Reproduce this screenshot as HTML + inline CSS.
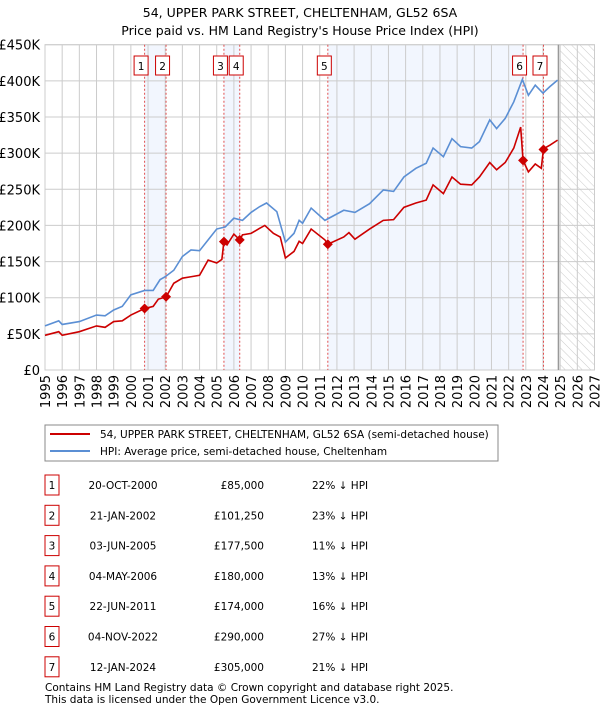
<!DOCTYPE html>
<html><head><meta charset="utf-8"><style>
body{margin:0;background:#fff;width:600px;height:710px;overflow:hidden;font-family:"DejaVu Sans","Liberation Sans",sans-serif}
svg{position:absolute;left:0;top:0}
text{font-family:"DejaVu Sans","Liberation Sans",sans-serif;fill:#000}
</style></head><body>
<svg id="c" width="600" height="710" xmlns="http://www.w3.org/2000/svg">
<defs><pattern id="hatch" width="6" height="6" patternUnits="userSpaceOnUse" patternTransform="rotate(-45)"><line x1="0" y1="0" x2="0" y2="6" stroke="#ccc" stroke-width="1"/></pattern></defs>
<text x="300" y="17" text-anchor="middle" font-size="12.5">54, UPPER PARK STREET, CHELTENHAM, GL52 6SA</text>
<text x="300" y="35" text-anchor="middle" font-size="12.5">Price paid vs. HM Land Registry's House Price Index (HPI)</text>
<g id="plot"></g>
<rect x="45" y="425" width="453" height="36" fill="none" stroke="#888"/>
<line x1="50" y1="434" x2="90" y2="434" stroke="#cc0000" stroke-width="2"/>
<text x="100" y="438" font-size="10.5">54, UPPER PARK STREET, CHELTENHAM, GL52 6SA (semi-detached house)</text>
<line x1="50" y1="451" x2="90" y2="451" stroke="#5b8fd4" stroke-width="2"/>
<text x="100" y="455" font-size="10.5">HPI: Average price, semi-detached house, Cheltenham</text>
<g id="table"></g>
<text x="45" y="691" font-size="10.5" fill="#333">Contains HM Land Registry data © Crown copyright and database right 2025.</text>
<text x="45" y="703" font-size="10.5" fill="#333">This data is licensed under the Open Government Licence v3.0.</text>
</svg>
<script>
const hpiYears=[1995,1995.8,1996,1997,1998,1998.5,1999,1999.5,2000,2000.8,2001.3,2001.7,2002,2002.5,2003,2003.5,2004,2004.5,2005,2005.5,2006,2006.5,2007,2007.5,2007.9,2008.5,2009,2009.5,2009.8,2010,2010.5,2011.3,2012.4,2013.05,2013.9,2014.7,2015.3,2015.9,2016.6,2017.2,2017.6,2018.2,2018.7,2019.2,2019.85,2020.3,2020.9,2021.3,2021.8,2022.3,2022.8,2023.15,2023.55,2024.0,2024.4,2024.85];
const hpiValues=[61,68,63,67,76,75,83,88,104,110,110,125,129,138,157,166,165,180,195,198,210,207,218,226,231,219,177,189,207,203,224,207,221,218,230,249,247,267,279,286,307,295,320,309,307,316,346,334,348,371,402,380,394,383,392,401];
const ppYears=[1995,1995.8,1996,1997,1998,1998.5,1999,1999.5,2000,2000.8,2001.3,2001.6,2002.05,2002.5,2003,2003.5,2004,2004.5,2005,2005.3,2005.42,2005.6,2006,2006.34,2006.5,2007,2007.5,2007.8,2008.3,2008.7,2009,2009.5,2009.8,2010,2010.5,2011.3,2011.47,2012.4,2012.7,2013.05,2013.9,2014.7,2015.3,2015.9,2016.6,2017.2,2017.6,2018.2,2018.7,2019.2,2019.85,2020.3,2020.9,2021.3,2021.8,2022.3,2022.7,2022.84,2023.15,2023.55,2023.9,2024.03,2024.4,2024.85];
const ppValues=[48,53,48,53,61,59,67,68,76,85,88,98,101,120,127,129,131,152,148,153,178,173,188,180,187,189,196,200,189,184,155,164,178,175,195,180,174,184,190,181,195,207,208,225,231,235,256,244,267,257,256,267,287,277,287,307,336,290,274,285,279,306,311,318];
const saleNums=["1","2","3","4","5","6","7"];
const saleYears=[2000.8,2002.05,2005.42,2006.34,2011.47,2022.84,2024.03];
const saleValues=[85000,101250,177500,180000,174000,290000,305000];
const saleDates=["20-OCT-2000","21-JAN-2002","03-JUN-2005","04-MAY-2006","22-JUN-2011","04-NOV-2022","12-JAN-2024"];
const salePrices=["£85,000","£101,250","£177,500","£180,000","£174,000","£290,000","£305,000"];
const saleDiffs=["22% ↓ HPI","23% ↓ HPI","11% ↓ HPI","13% ↓ HPI","16% ↓ HPI","27% ↓ HPI","21% ↓ HPI"];
const yTicks=[0,50,100,150,200,250,300,350,400,450];
const yTickLabels=["£0","£50K","£100K","£150K","£200K","£250K","£300K","£350K","£400K","£450K"];
const xTicks=[1995,1996,1997,1998,1999,2000,2001,2002,2003,2004,2005,2006,2007,2008,2009,2010,2011,2012,2013,2014,2015,2016,2017,2018,2019,2020,2021,2022,2023,2024,2025,2026,2027];

const X0=45,X1=594.5,Y0=370,Y1=44.7;
const xs=y=>X0+(y-1995)/(2027-1995)*(X1-X0);
const ys=v=>Y0-v/450*(Y0-Y1);
const NS="http://www.w3.org/2000/svg";
function mk(tag,attrs,parent){const e=document.createElementNS(NS,tag);for(const k in attrs)e.setAttribute(k,attrs[k]);parent.appendChild(e);return e;}
const g=document.getElementById('plot');
const bands=[[0,1],[2,3],[4,5]];
bands.forEach((b,i)=>{const r=mk('rect',{x:xs(saleYears[b[0]]),y:Y1,width:xs(saleYears[b[1]])-xs(saleYears[b[0]]),height:Y0-Y1,fill:'#f2f6fe'},g);

});
const h=mk('rect',{x:xs(2025),y:Y1,width:X1-xs(2025),height:Y0-Y1,fill:'url(#hatch)'},g);


yTicks.forEach((t,i)=>{const l=mk('line',{x1:X0,x2:X1,y1:ys(t),y2:ys(t),stroke:'#ccc','stroke-width':1},g);


const tx=mk('text',{x:40,y:ys(t)+5,'text-anchor':'end','font-size':13},g);tx.textContent=yTickLabels[i];

});
xTicks.forEach(t=>{const l=mk('line',{x1:xs(t),x2:xs(t),y1:Y1,y2:Y0,stroke:'#ccc','stroke-width':1},g);


const tx=mk('text',{x:0,y:0,'text-anchor':'end','font-size':13,transform:`translate(${xs(t)+5},375) rotate(-90)`},g);tx.textContent=t;

});
mk('rect',{x:X0,y:Y1,width:X1-X0,height:Y0-Y1,fill:'none',stroke:'#ccc'},g);
const nl=mk('line',{x1:xs(2024.9),x2:xs(2024.9),y1:Y1,y2:Y0,stroke:'#999','stroke-width':1.5},g);


saleYears.forEach((s,i)=>{const l=mk('line',{x1:xs(s),x2:xs(s),y1:Y1,y2:Y0,stroke:'#e05050','stroke-width':1,'stroke-dasharray':'2,2'},g);

});
const hp=mk('polyline',{points:hpiYears.map((y,i)=>xs(y)+','+ys(hpiValues[i])).join(' '),fill:'none',stroke:'#5b8fd4','stroke-width':1.6},g);


const pp=mk('polyline',{points:ppYears.map((y,i)=>xs(y)+','+ys(ppValues[i])).join(' '),fill:'none',stroke:'#cc0000','stroke-width':1.6},g);


saleYears.forEach((s,i)=>{const cx=xs(s),cy=ys(saleValues[i]/1000);
const d=mk('path',{d:`M${cx} ${cy-5}L${cx+5} ${cy}L${cx} ${cy+5}L${cx-5} ${cy}Z`,fill:'#cc0000'},g);


const bx=cx-3.5-7;
const r=mk('rect',{x:bx,y:56,width:14,height:19,fill:'#fff',stroke:'#cc0000'},g);


const t=mk('text',{x:bx+7,y:70,'text-anchor':'middle','font-size':10.5},g);t.textContent=saleNums[i];

});
const tb=document.getElementById('table');
saleNums.forEach((n,i)=>{const y=485+i*30.3;
const r=mk('rect',{x:45,y:y-10,width:14,height:20,fill:'#fff',stroke:'#cc0000'},tb);


const a=mk('text',{x:52,y:y+4,'text-anchor':'middle','font-size':10.5},tb);a.textContent=n;


const b=mk('text',{x:123,y:y+4,'text-anchor':'middle','font-size':10.5},tb);b.textContent=saleDates[i];


const c=mk('text',{x:264,y:y+4,'text-anchor':'end','font-size':10.5},tb);c.textContent=salePrices[i];


const d=mk('text',{x:312,y:y+4,'font-size':10.5},tb);d.textContent=saleDiffs[i];

});
</script>
</body></html>
